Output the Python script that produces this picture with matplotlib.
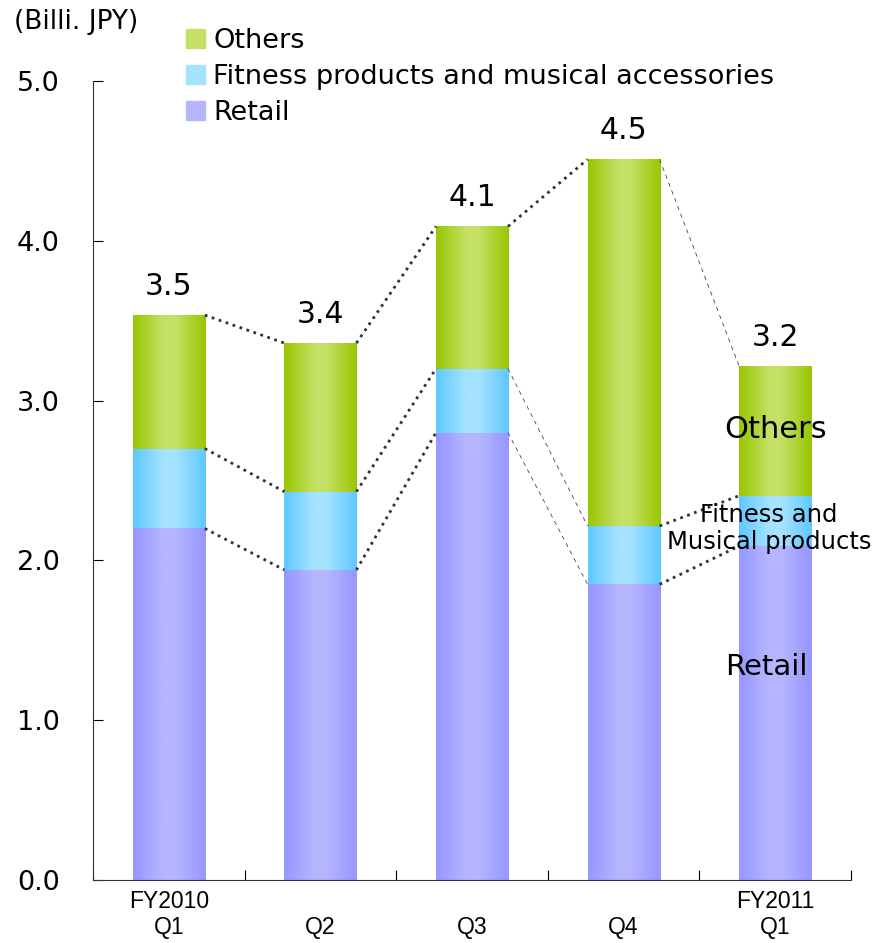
import numpy as np
import matplotlib.pyplot as plt
from matplotlib.patches import Patch
from matplotlib.colors import LinearSegmentedColormap

plt.rcParams['font.family'] = ['DejaVu Sans']

quarters = ['FY2010\nQ1', '\nQ2', '\nQ3', '\nQ4', 'FY2011\nQ1']
retail = [2.20, 1.94, 2.80, 1.85, 2.09]
fitness = [0.50, 0.49, 0.40, 0.365, 0.315]
others = [0.835, 0.93, 0.89, 2.295, 0.81]
totals = [3.5, 3.4, 4.1, 4.5, 3.2]

# edge colour, centre colour for each segment
palette = {
    'Retail': ('#9696ff', '#b6b6ff'),
    'Fitness': ('#5ec8ff', '#a6e3ff'),
    'Others': ('#98c600', '#c4e166'),
}

fig = plt.figure(figsize=(8.83, 9.43), dpi=100)
ax = fig.add_axes([0.1053, 0.0668, 0.8585, 0.8473])

x = np.arange(len(quarters))
w = 0.475
bottoms = np.zeros(len(x))
segments = [('Retail', retail), ('Fitness', fitness), ('Others', others)]
bounds = []
grad = np.linspace(0, 1, 256).reshape(1, -1)
for name, vals in segments:
    edge, centre = palette[name]
    bars = ax.bar(x, vals, w, bottom=bottoms, color=centre, linewidth=0)
    cmap = LinearSegmentedColormap.from_list(
        name, [(0, edge), (0.42, centre), (0.58, centre), (1, edge)])
    for b in bars:
        bx, by = b.get_x(), b.get_y()
        im = ax.imshow(grad, cmap=cmap, aspect='auto', interpolation='bilinear',
                       extent=(bx, bx + b.get_width(), by, by + b.get_height()), zorder=2)
        im.set_clip_path(b)
    bottoms = bottoms + np.array(vals)
    bounds.append(bottoms.copy())

ax.set_xlim(-0.5, 4.5)
ax.set_ylim(0, 5.0)

# connector lines between consecutive bars
thin = {(2, 0), (2, 1), (3, 2)}
for i in range(len(x) - 1):
    for k, level in enumerate(bounds):
        xs = [x[i] + w / 2, x[i + 1] - w / 2]
        ys = [level[i], level[i + 1]]
        if (i, k) in thin:
            ax.plot(xs, ys, ls=(0, (5, 5)), lw=0.6, color='#444444', zorder=3)
        else:
            ax.plot(xs, ys, ls=':', lw=2.0, color='#333333', zorder=3)

for xi, top, t in zip(x, bounds[-1], totals):
    ax.text(xi, top + 0.125, f'{t:.1f}', ha='center', va='baseline', fontsize=21.5)

# segment names on the last bar
ax.text(x[-1], 2.82, 'Others', ha='center', va='center', fontsize=22)
ax.text(x[-1] - 0.04, 2.2, 'Fitness and\nMusical products', ha='center', va='center',
        fontsize=17.5, linespacing=1.12)
ax.text(x[-1] - 0.06, 1.33, 'Retail', ha='center', va='center', fontsize=21)

yt = np.arange(0, 5.01, 1.0)
ax.set_yticks(yt)
ax.set_yticklabels([f'{v:.1f}' for v in yt], fontsize=19.5)
ax.set_xticks(x)
ax.set_xticklabels(quarters, fontsize=16.5, linespacing=1.2, family='Liberation Sans')
ax.set_xticks(np.arange(-0.5, 4.6, 1.0), minor=True)
ax.tick_params(axis='x', which='major', length=0, pad=7)
ax.tick_params(axis='x', which='minor', direction='in', length=7, width=0.8)
ax.tick_params(axis='y', direction='in', length=7, width=0.8, pad=24)
for s in ['top', 'right']:
    ax.spines[s].set_visible(False)
for s in ['left', 'bottom']:
    ax.spines[s].set_linewidth(0.8)
    ax.spines[s].set_color('#333333')

fig.text(0.016, 0.977, '(Billi. JPY)', fontsize=19, ha='left', va='center')

handles = [Patch(color=palette['Others'][1]), Patch(color=palette['Fitness'][1]),
           Patch(color=palette['Retail'][1])]
fig.legend(handles, ['Others', 'Fitness products and musical accessories', 'Retail'],
           loc='upper left', bbox_to_anchor=(0.211, 0.97), frameon=False, fontsize=19.5,
           handlelength=0.7, handleheight=0.7, handletextpad=0.3, labelspacing=0.36,
           borderaxespad=0, borderpad=0)

fig.savefig('out.png', dpi=100)
